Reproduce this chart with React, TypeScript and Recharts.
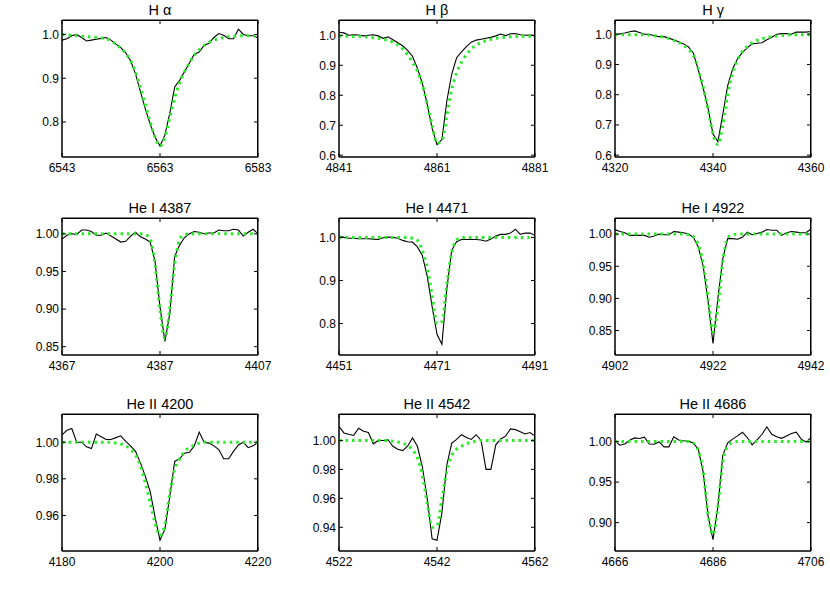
import { LineChart, Line, XAxis, YAxis, ReferenceArea } from "recharts"

const FONT = '"Liberation Sans", Arial, Helvetica, sans-serif'

// every panel is sampled 1 A apart, 20 A either side of the line centre
const haObs = [0.987, 0.99, 0.997, 1.0, 0.993, 0.985, 0.987, 0.989, 0.991, 0.993, 0.987, 0.978, 0.97, 0.958, 0.94, 0.91, 0.87, 0.83, 0.795, 0.765, 0.745, 0.77, 0.82, 0.88, 0.895, 0.915, 0.935, 0.955, 0.96, 0.975, 0.98, 0.993, 1.002, 0.998, 0.99, 0.99, 1.012, 1.0, 0.997, 0.997, 0.992]
const haModel = [1.0, 0.999, 0.998, 0.997, 0.996, 0.995, 0.994, 0.993, 0.992, 0.99, 0.985, 0.978, 0.968, 0.957, 0.94, 0.915, 0.88, 0.84, 0.8, 0.765, 0.745, 0.765, 0.81, 0.855, 0.89, 0.915, 0.935, 0.953, 0.965, 0.975, 0.982, 0.987, 0.99, 0.993, 0.995, 0.996, 0.997, 0.997, 0.997, 0.997, 0.997]

const hbObs = [1.01, 1.008, 1.0, 1.002, 1.001, 0.998, 1.0, 1.002, 0.998, 0.99, 0.995, 0.985, 0.975, 0.965, 0.95, 0.93, 0.89, 0.84, 0.77, 0.69, 0.635, 0.652, 0.78, 0.87, 0.925, 0.945, 0.962, 0.977, 0.984, 0.987, 0.99, 0.993, 0.998, 1.004, 0.999, 1.005, 1.006, 1.002, 1.0, 1.001, 0.998]
const hbModel = [0.997, 0.997, 0.997, 0.996, 0.996, 0.995, 0.994, 0.992, 0.99, 0.987, 0.983, 0.977, 0.968, 0.955, 0.935, 0.91, 0.88, 0.835, 0.77, 0.7, 0.64, 0.648, 0.73, 0.82, 0.875, 0.91, 0.935, 0.955, 0.967, 0.976, 0.982, 0.987, 0.99, 0.992, 0.994, 0.995, 0.996, 0.996, 0.997, 0.997, 0.997]

const hgObs = [1.0, 1.001, 1.004, 1.008, 1.011, 1.006, 1.0, 1.0, 0.995, 0.992, 0.992, 0.987, 0.981, 0.975, 0.968, 0.958, 0.937, 0.882, 0.822, 0.755, 0.67, 0.645, 0.735, 0.83, 0.885, 0.918, 0.94, 0.955, 0.968, 0.97, 0.972, 0.982, 0.99, 1.0, 1.002, 1.002, 1.0, 1.007, 1.007, 1.007, 1.009]
const hgModel = [0.999, 0.998, 0.998, 0.998, 0.998, 0.998, 0.998, 0.997, 0.995, 0.993, 0.99, 0.986, 0.98, 0.973, 0.963, 0.95, 0.93, 0.885, 0.825, 0.75, 0.67, 0.635, 0.7, 0.8, 0.87, 0.915, 0.943, 0.96, 0.972, 0.98, 0.985, 0.989, 0.992, 0.994, 0.996, 0.997, 0.998, 0.998, 0.998, 0.998, 0.998]

const he4387Obs = [0.993, 0.998, 1.0, 0.999, 1.005, 1.005, 1.003, 0.998, 0.998, 1.001, 0.997, 0.993, 0.989, 0.99, 0.997, 1.002, 0.996, 0.993, 0.989, 0.963, 0.903, 0.857, 0.894, 0.97, 0.985, 0.995, 1.0, 1.003, 1.002, 1.0, 1.001, 1.001, 1.005, 1.004, 1.004, 1.006, 1.005, 0.997, 1.002, 1.006, 1.0]
const he4387Model = [1, 1, 1, 1, 1, 1, 1, 1, 1, 1, 1, 1, 1, 1, 1, 1, 1, 0.999, 0.993, 0.958, 0.899, 0.861, 0.901, 0.96, 0.992, 0.999, 1, 1, 1, 1, 1, 1, 1, 1, 1, 1, 1, 1, 1, 1, 1]

const he4471Obs = [1.003, 1.0, 0.998, 0.998, 0.997, 0.997, 0.997, 0.996, 0.995, 0.999, 1.001, 1.0, 0.998, 0.993, 0.99, 0.989, 0.978, 0.958, 0.91, 0.84, 0.775, 0.752, 0.88, 0.97, 0.99, 0.995, 0.995, 0.995, 0.995, 0.994, 0.991, 0.996, 1.003, 1.007, 1.007, 1.01, 1.019, 1.007, 1.01, 1.01, 1.005]
const he4471Model = [1, 1, 1, 1, 1, 1, 1, 1, 1, 1, 1, 1, 1, 1, 1, 0.998, 0.993, 0.97, 0.93, 0.865, 0.8, 0.805, 0.89, 0.965, 0.994, 0.999, 1, 1, 1, 1, 1, 1, 1, 1, 1, 1, 1, 1, 1, 1, 1]

const he4922Obs = [1.007, 1.004, 1.002, 0.998, 0.998, 0.998, 0.998, 0.995, 0.997, 1.0, 0.999, 0.999, 1.004, 1.003, 1.002, 1.0, 0.995, 0.98, 0.95, 0.895, 0.83, 0.9, 0.962, 0.993, 0.993, 0.992, 0.995, 1.003, 0.999, 1.001, 1.003, 1.007, 1.006, 1.006, 0.998, 1.002, 1.004, 1.003, 1.002, 1.002, 1.008]
const he4922Model = [1, 1, 1, 1, 1, 1, 1, 1, 1, 1, 1, 1, 1, 1, 1, 0.999, 0.996, 0.983, 0.955, 0.9, 0.848, 0.885, 0.957, 0.994, 0.999, 1, 1, 1, 1, 1, 1, 1, 1, 1, 1, 1, 1, 1, 1, 1, 1]

const heII4200Obs = [1.004, 1.0065, 1.0075, 1.0, 1.0, 0.9975, 0.9965, 1.0045, 1.003, 1.0015, 1.0015, 1.0025, 1.0035, 1.0005, 0.998, 0.995, 0.9887, 0.9815, 0.973, 0.959, 0.9465, 0.9525, 0.9705, 0.9895, 0.991, 0.994, 0.9945, 0.998, 1.0055, 1.0, 0.9995, 0.998, 0.996, 0.991, 0.991, 0.995, 0.9985, 1.0, 0.997, 0.998, 1.0]
const heII4200Model = [1, 1, 1, 1, 1, 1, 1, 1, 1, 1, 1, 0.9995, 0.999, 0.998, 0.996, 0.993, 0.987, 0.978, 0.967, 0.956, 0.949, 0.955, 0.972, 0.985, 0.991, 0.995, 0.997, 0.9985, 0.9995, 1, 1, 1, 1, 1, 1, 1, 1, 1, 1, 1, 1]

const heII4542Obs = [1.0098, 1.0052, 1.0043, 1.0035, 1.0085, 1.0064, 1.0055, 0.9977, 1.0, 1.0, 1.0005, 0.996, 0.994, 0.993, 0.996, 1.0018, 0.996, 0.982, 0.96, 0.932, 0.931, 0.95, 0.983, 0.998, 1.0007, 1.004, 1.002, 1.0007, 1.004, 1.0, 0.98, 0.98, 0.997, 1.001, 1.003, 1.008, 1.0075, 1.006, 1.0045, 1.0055, 1.003]
const heII4542Model = [1, 1, 1, 1, 1, 1, 1, 1, 1, 1, 1, 0.9995, 0.999, 0.998, 0.9965, 0.9935, 0.988, 0.976, 0.957, 0.94, 0.941, 0.96, 0.979, 0.9895, 0.994, 0.996, 0.9977, 0.9988, 0.9995, 1, 1, 1, 1, 1, 1, 1, 1, 1, 1, 1, 1]

const heII4686Obs = [1.0008, 0.9955, 0.997, 1.0016, 1.0045, 1.0037, 1.0055, 0.997, 0.9967, 0.9995, 0.9935, 0.9935, 1.006, 1.002, 1.001, 1.0005, 0.998, 0.9905, 0.9622, 0.908, 0.8789, 0.92, 0.983, 0.9985, 1.003, 1.007, 1.0115, 1.005, 0.996, 1.002, 1.009, 1.018, 1.009, 1.006, 1.004, 1.007, 1.01, 1.0115, 1.003, 0.9995, 1.0049]
const heII4686Model = [1, 1, 1, 1, 1, 1, 1, 1, 1, 1, 1, 1, 1, 1, 1, 1, 0.998, 0.989, 0.963, 0.91, 0.885, 0.92, 0.975, 0.994, 0.999, 1, 1, 1, 1, 1, 1, 1, 1, 1, 1, 1, 1, 1, 1, 1, 1]

const panels = [
  { title: "H α", start: 6543, obs: haObs, model: haModel, yTicks: [0.8, 0.9, 1.0], yDomain: [0.72, 1.033], dec: 1 },
  { title: "H β", start: 4841, obs: hbObs, model: hbModel, yTicks: [0.6, 0.7, 0.8, 0.9, 1.0], yDomain: [0.594, 1.051], dec: 1 },
  { title: "H γ", start: 4320, obs: hgObs, model: hgModel, yTicks: [0.6, 0.7, 0.8, 0.9, 1.0], yDomain: [0.594, 1.047], dec: 1 },
  { title: "He I 4387", start: 4367, obs: he4387Obs, model: he4387Model, yTicks: [0.85, 0.9, 0.95, 1.0], yDomain: [0.839, 1.021], dec: 2 },
  { title: "He I 4471", start: 4451, obs: he4471Obs, model: he4471Model, yTicks: [0.8, 0.9, 1.0], yDomain: [0.727, 1.045], dec: 1 },
  { title: "He I 4922", start: 4902, obs: he4922Obs, model: he4922Model, yTicks: [0.85, 0.9, 0.95, 1.0], yDomain: [0.812, 1.025], dec: 2 },
  { title: "He II 4200", start: 4180, obs: heII4200Obs, model: heII4200Model, yTicks: [0.96, 0.98, 1.0], yDomain: [0.9406, 1.0154], dec: 2 },
  { title: "He II 4542", start: 4522, obs: heII4542Obs, model: heII4542Model, yTicks: [0.94, 0.96, 0.98, 1.0], yDomain: [0.9236, 1.0183], dec: 2 },
  { title: "He II 4686", start: 4666, obs: heII4686Obs, model: heII4686Model, yTicks: [0.9, 0.95, 1.0], yDomain: [0.865, 1.034], dec: 2 },
]

// plot-box corners in page pixels
const COL_X = [62, 339, 615]
const ROW_Y = [20, 218, 414]
const PLOT_W = 196
const PLOT_H = 137
const LEFT = 50
const RIGHT = 14
const TOP = 4
const BOTTOM = 24
const TICK = 4
const Y_GAP = 3 // label to axis
const X_GAP = 6

// left tick: label plus a mirrored inward tick on the right edge of the box
function YTick(props: any) {
  const { x, y, payload, dec } = props
  const axisX = x + Y_GAP
  return (
    <g>
      <text x={x} y={y} dy="0.36em" textAnchor="end" fill="#000" fontSize={12} fontFamily={FONT}>
        {payload.value.toFixed(dec)}
      </text>
      <line x1={axisX + PLOT_W - TICK} x2={axisX + PLOT_W} y1={y} y2={y} stroke="#000" />
    </g>
  )
}

// bottom tick: label plus a mirrored inward tick on the top edge of the box
function XTick(props: any) {
  const { x, y, payload } = props
  const axisY = y - X_GAP
  return (
    <g>
      <text x={x} y={y} dy="0.71em" textAnchor="middle" fill="#000" fontSize={12} fontFamily={FONT}>
        {payload.value}
      </text>
      <line x1={x} x2={x} y1={axisY - PLOT_H} y2={axisY - PLOT_H + TICK} stroke="#000" />
    </g>
  )
}

function Panel({ p, col, row }: { p: any; col: number; row: number }) {
  const data = p.obs.map((v: number, i: number) => ({ x: p.start + i, obs: v, model: p.model[i] }))
  const xDomain = [p.start, p.start + 40]
  const xTicks = [p.start, p.start + 20, p.start + 40]
  return (
    <div style={{ position: "absolute", left: COL_X[col] - LEFT, top: ROW_Y[row] - TOP }}>
      <LineChart
        width={LEFT + PLOT_W + RIGHT}
        height={TOP + PLOT_H + BOTTOM}
        data={data}
        margin={{ top: TOP, right: RIGHT, bottom: 0, left: 10 }}
      >
        <XAxis
          dataKey="x"
          type="number"
          domain={xDomain}
          ticks={xTicks}
          interval={0}
          allowDataOverflow
          height={BOTTOM}
          tickSize={-TICK}
          tickMargin={TICK + X_GAP}
          stroke="#000"
          tick={<XTick />}
        />
        <YAxis
          type="number"
          domain={p.yDomain}
          ticks={p.yTicks}
          interval={0}
          allowDataOverflow
          width={40}
          tickSize={-TICK}
          tickMargin={TICK + Y_GAP}
          stroke="#000"
          tick={<YTick dec={p.dec} />}
        />
        <ReferenceArea
          x1={xDomain[0]}
          x2={xDomain[1]}
          y1={p.yDomain[0]}
          y2={p.yDomain[1]}
          fill="none"
          stroke="#000"
          strokeWidth={1}
          ifOverflow="visible"
        />
        <Line dataKey="obs" type="linear" stroke="#000" strokeWidth={1.1} dot={false} isAnimationActive={false} />
        <Line
          dataKey="model"
          type="monotone"
          stroke="#22ee22"
          strokeWidth={3}
          strokeDasharray="2.5 4"
          dot={false}
          isAnimationActive={false}
        />
      </LineChart>
      {/* top and right edges of the box */}
      <div
        style={{
          position: "absolute",
          left: LEFT,
          top: TOP,
          width: PLOT_W,
          height: PLOT_H,
          boxSizing: "border-box",
          borderTop: "1px solid #000",
          borderRight: "1px solid #000",
          pointerEvents: "none",
        }}
      />
      <div
        style={{
          position: "absolute",
          left: LEFT,
          width: PLOT_W,
          top: TOP - 17,
          textAlign: "center",
          fontFamily: FONT,
          fontSize: 14.5,
          lineHeight: "14px",
          color: "#000",
        }}
      >
        {p.title}
      </div>
    </div>
  )
}

export default function App() {
  return (
    <div style={{ position: "absolute", left: 0, top: 0, width: 830, height: 593, background: "#fff" }}>
      {panels.map((p, i) => (
        <Panel key={p.title} p={p} col={i % 3} row={Math.floor(i / 3)} />
      ))}
    </div>
  )
}
